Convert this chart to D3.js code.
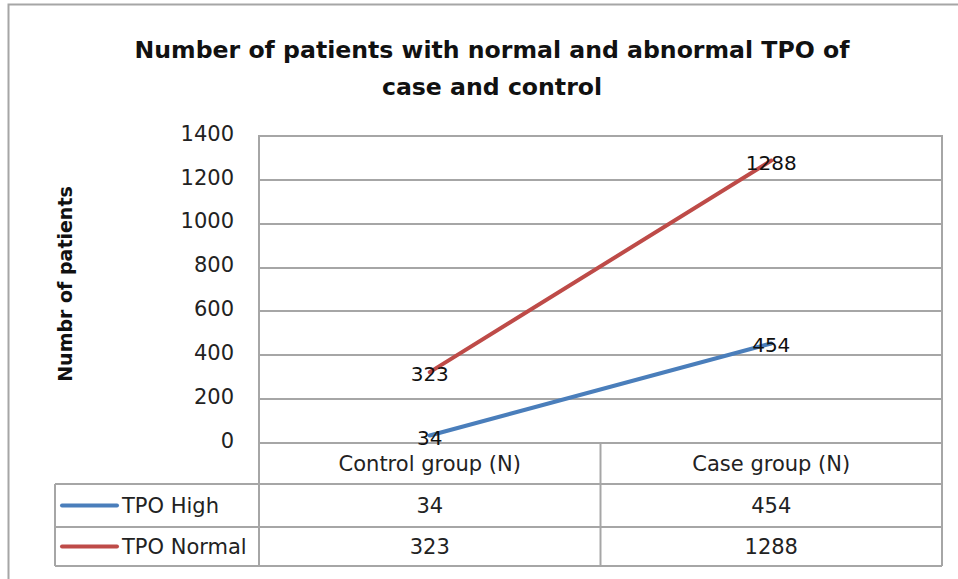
<!DOCTYPE html>
<html lang="en">
<head>
    <meta charset="UTF-8">
    <title>TPO case and control</title>
    <script src="https://d3js.org/d3.v7.min.js"></script>
    <style>
        body { margin: 0; background: #fff; }
        text { font-family: "DejaVu Sans", sans-serif; fill: #222; }
    </style>
</head>
<body>
    <svg id='chart' width='958' height='579'></svg>

    <script>
        var categories = ["Control group (N)", "Case group (N)"],
            tpoHigh = [34, 454],
            tpoNormal = [323, 1288],
            yTicks = [0, 200, 400, 600, 800, 1000, 1200, 1400]

        var series = [
            {name: "TPO High", values: tpoHigh, color: "#4a7ebb"},
            {name: "TPO Normal", values: tpoNormal, color: "#be4b48"}
        ]

        var svg = d3.select("#chart"),
            grid = "#a6a6a6",
            plotL = 259, plotR = 942, plotT = 136, plotB = 443,
            tableL = 55, rowY = [443, 484, 527, 566]

        // outer frame
        svg.append("rect")
            .attr("x", 8.5).attr("y", 4.5)
            .attr("width", 960).attr("height", 590)
            .attr("fill", "none").attr("stroke", grid).attr("stroke-width", 2)

        var titleLines = ["Number of patients with normal and abnormal TPO of", "case and control"]
        svg.selectAll("text.title").data(titleLines).join("text")
            .attr("class", "title")
            .attr("x", 492).attr("y", function(d, i){return 58 + i*37})
            .attr("text-anchor", "middle")
            .style("font-weight", "bold").style("font-size", "23.6px")
            .style("fill", "#111")
            .text(function(d){return d})

        var x = d3.scaleBand().domain(categories).range([plotL, plotR]),
            y = d3.scaleLinear().domain([0, 1400]).range([plotB, plotT])

        // gridlines
        svg.append("g").selectAll("line").data(yTicks).join("line")
            .attr("x1", plotL).attr("x2", plotR)
            .attr("y1", function(d){return Math.round(y(d))})
            .attr("y2", function(d){return Math.round(y(d))})
            .attr("stroke", grid).attr("stroke-width", 2)

        svg.append("line")
            .attr("x1", plotL).attr("x2", plotL).attr("y1", plotT - 1).attr("y2", rowY[3])
            .attr("stroke", grid).attr("stroke-width", 2)

        // y axis labels
        var yAxis = svg.append("g")
            .attr("transform", "translate(" + (plotL - 25) + ",0)")
            .call(d3.axisLeft(y).tickValues(yTicks).tickSize(0).tickPadding(0)
                .tickFormat(d3.format("d")))
        yAxis.select(".domain").remove()
        yAxis.selectAll("text")
            .style("font-family", "'DejaVu Sans', sans-serif")
            .style("font-size", "21px").style("fill", "#222")
            .attr("dy", "0.2em")

        svg.append("text")
            .attr("transform", "translate(72,284) rotate(-90)")
            .attr("text-anchor", "middle")
            .style("font-weight", "bold").style("font-size", "19px")
            .style("fill", "#111")
            .text("Numbr of patients")

        // data table
        var tbl = svg.append("g")
        tbl.append("line").attr("x1", plotR).attr("x2", plotR)
            .attr("y1", plotT - 1).attr("y2", rowY[3]).attr("stroke", grid).attr("stroke-width", 2)
        tbl.append("line").attr("x1", x(categories[1])).attr("x2", x(categories[1]))
            .attr("y1", plotB).attr("y2", rowY[3]).attr("stroke", grid).attr("stroke-width", 2)
        tbl.append("line").attr("x1", tableL).attr("x2", tableL)
            .attr("y1", rowY[1]).attr("y2", rowY[3]).attr("stroke", grid).attr("stroke-width", 2)
        tbl.selectAll("line.row").data(rowY.slice(1)).join("line")
            .attr("class", "row")
            .attr("x1", tableL).attr("x2", plotR)
            .attr("y1", function(d){return d}).attr("y2", function(d){return d})
            .attr("stroke", grid).attr("stroke-width", 2)

        tbl.selectAll("text.cat").data(categories).join("text")
            .attr("class", "cat")
            .attr("x", function(d){return x(d) + x.bandwidth()/2})
            .attr("y", (rowY[0] + rowY[1])/2 + 7)
            .attr("text-anchor", "middle").style("font-size", "21px")
            .text(function(d){return d})

        series.forEach(function(s, i){
            var cy = (rowY[i+1] + rowY[i+2])/2
            tbl.append("line")
                .attr("x1", 62).attr("x2", 117).attr("y1", cy).attr("y2", cy)
                .attr("stroke", s.color).attr("stroke-width", 4).attr("stroke-linecap", "round")
            tbl.append("text").attr("x", 122).attr("y", cy + 7)
                .style("font-size", "21px").text(s.name)
            tbl.selectAll("text.v" + i).data(s.values).join("text")
                .attr("class", "v" + i)
                .attr("x", function(d, j){return x(categories[j]) + x.bandwidth()/2})
                .attr("y", cy + 7)
                .attr("text-anchor", "middle").style("font-size", "21px")
                .text(function(d){return d})
        })

        // lines
        var line = d3.line()
            .x(function(d, j){return x(categories[j]) + x.bandwidth()/2})
            .y(function(d){return y(d)})

        series.forEach(function(s){
            svg.append("path").datum(s.values)
                .attr("d", line).attr("fill", "none")
                .attr("stroke", s.color).attr("stroke-width", 4).attr("stroke-linecap", "round")
        })

        series.forEach(function(s){
            svg.selectAll(null).data(s.values).join("text")
                .attr("x", function(d, j){return x(categories[j]) + x.bandwidth()/2})
                .attr("y", function(d){return y(d) + 9})
                .attr("text-anchor", "middle").style("font-size", "20px")
                .style("fill", "#111")
                .text(function(d){return d})
        })
    </script>
</body>
</html>
